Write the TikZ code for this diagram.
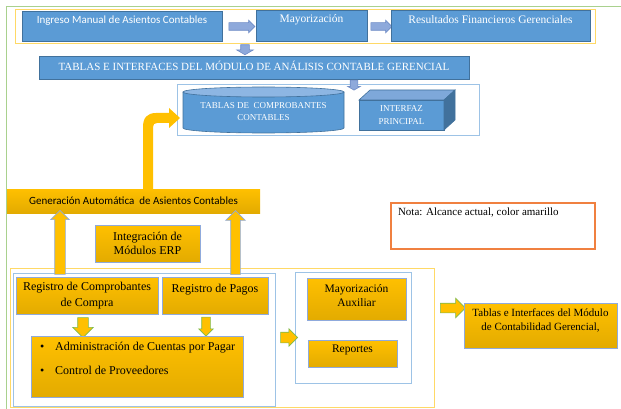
\documentclass[tikz,border=0pt]{standalone}
\usepackage{fontspec}
\setmainfont{Liberation Serif}
\newfontfamily\calibri{Carlito}
\usepackage{tikz}
\usetikzlibrary{
  	positioning,
  	shapes.arrows,
  	shapes.geometric,
  	calc
  }
\definecolor{boxblue}{HTML}{5B9BD5}
\definecolor{blueline}{HTML}{41719C}
\definecolor{cyltop}{HTML}{8DB6E3}
\definecolor{cubetop}{HTML}{7EA8DA}
\definecolor{arrfill}{HTML}{8EA9DB}
\definecolor{arrline}{HTML}{6F8CC6}
\definecolor{goldtop}{HTML}{FFC000}
\definecolor{goldbot}{HTML}{E3AB00}
\definecolor{goldline}{HTML}{8FAADC}
\definecolor{greenline}{HTML}{7DBB4C}
\definecolor{frameyellow}{HTML}{FFD966}
\definecolor{frameblue}{HTML}{9DC3E6}
\definecolor{framegreen}{HTML}{A9D18E}
\definecolor{notaorange}{RGB}{240,128,64}

\begin{document}
\begin{tikzpicture}[x=1pt, y=-1pt,
    every node/.style={inner sep=0pt, outer sep=0pt},
    every label/.style={align=center},
    tms/.style={font=\fontsize{#1}{14}\selectfont},
    calib/.style={font=\calibri\fontsize{11}{13}\selectfont},
    wtxt/.style={text=white},
    bluebox/.style={draw=blueline, fill=boxblue, line width=.7pt, anchor=north west},
    goldfill/.style={top color=goldtop, bottom color=goldbot, anchor=north west, align=center},
    goldbox/.style={goldfill, draw=goldline, line width=.7pt},
    blk/.style={single arrow, single arrow head indent=0pt, line width=.6pt, inner xsep=0pt, inner ysep=#1},
    bluearr/.style={blk=#1, fill=arrfill, draw=arrline},
    greyarr/.style={blk=#1, fill=goldtop, draw=goldline},
    greenarr/.style={blk=#1, fill=goldtop, draw=greenline},
    notabox/.style={draw=notaorange, line width=1.2pt, anchor=north west},
    frame/.style={draw=#1, line width=.8pt}]
	\useasboundingbox (0,0) rectangle (621,409);
%
	\draw[frame=framegreen] (6,409) -- (6,6.5) -- (621,6.5);
	\draw[frame=frameyellow] (15,9) rectangle (595,43);
	\draw[frame=frameblue] (177,84) rectangle (479,135);
	\draw[frame=frameyellow] (10,268) rectangle (434,407);
	\draw[frame=frameblue] (13,273) rectangle (275,406);
	\draw[frame=frameblue] (295,272) rectangle (411,383);
%
	\node[bluebox, minimum width=200, minimum height=30,
	  label={[wtxt, calib, yshift=5pt]center:Ingreso Manual de Asientos Contables}] (ingreso) at (22,11) {};
	\node[bluearr=3.5, minimum height=26, minimum width=12, single arrow head extend=2.5] (a1) at (240,26.5) {};
	\node[bluebox, minimum width=111, minimum height=31,
	  label={[wtxt, tms=11.5, yshift=5.5pt]center:Mayorización}] (mayor) at (256,10) {};
	\node[bluearr=3.5, minimum height=21, minimum width=12, single arrow head extend=2.5] (a2) at (379.5,26.5) {};
	\node[bluebox, minimum width=199, minimum height=31,
	  label={[wtxt, tms=11.5, yshift=5.5pt]center:Resultados Financieros Gerenciales}] (result) at (391,10) {};
	\node[bluearr=4, rotate=-90, minimum height=10, minimum width=16, single arrow head extend=4,
	  single arrow tip angle=120] (a3) at (245,48.5) {};
%
	\node[bluebox, minimum width=430, minimum height=23,
	  label={[wtxt, tms=11, yshift=2pt]center:TABLAS E INTERFACES DEL MÓDULO DE ANÁLISIS CONTABLE GERENCIAL}] (tablas) at (39,56) {};
	\node[bluearr=3.5, rotate=-90, minimum height=10, minimum width=12, single arrow head extend=2.5,
	  single arrow tip angle=120] (a4) at (354,84) {};
%
	\draw[draw=blueline, fill=boxblue, line width=.6pt] (183,92) -- (183,128)
	  arc[start angle=180, end angle=360, x radius=80.5pt, y radius=5pt] -- (344,92);
	\draw[draw=blueline, fill=cyltop, line width=.6pt] (263.5,92) ellipse[x radius=80.5pt, y radius=5pt];
	\node[wtxt, tms=9, align=center] (tabcomp) at (263.5,112) {TABLAS DE\ \ COMPROBANTES\\[-2pt]CONTABLES};
%
	\node[bluebox, minimum width=85, minimum height=30, wtxt, tms=9, align=center] (interfaz) at (359,100) {INTERFAZ\\[-1pt]PRINCIPAL};
	\draw[draw=blueline, fill=cubetop, line width=.6pt] (interfaz.north west) -- ++(11,-10) -- ++(85,0) -- (interfaz.north east) -- cycle;
	\draw[draw=blueline, fill=blueline, line width=.6pt] (interfaz.north east) -- ++(11,-10) -- ++(0,30) -- (interfaz.south east) -- cycle;
%
	\node[goldfill, minimum width=253, minimum height=24, calib] (gen) at (7,189) {Generación Automática\ \ de Asientos Contables};
	\fill[goldtop] (143,189) -- (143,127) .. controls (143,118) and (147,113) .. (156,113) -- (169,113) -- (169,108)
	  -- (180,118) -- (169,128) -- (169,123) -- (157,123) .. controls (154.5,123) and (153,124.5) .. (153,127) -- (153,189) -- cycle;
%
	\node[goldbox, minimum width=105, minimum height=37, tms=12] (integ) at (95,225) {Integración de\\Módulos ERP};
	\node[greyarr=5, rotate=90, minimum height=64, minimum width=18, single arrow head extend=4] (upL) at (60,245) {};
	\node[greyarr=4.5, rotate=90, minimum height=64, minimum width=19, single arrow head extend=5] (upR) at (235.5,245) {};
%
	\node[goldbox, minimum width=142, minimum height=37, tms=12] (regcomp) at (16,277) {Registro de Comprobantes\\[2pt]de Compra};
	\node[goldbox, minimum width=106, minimum height=37,
	  label={[tms=12, yshift=6pt]center:Registro de Pagos}] (regpag) at (162,277) {};
	\node[greenarr=5, rotate=-90, minimum height=20, minimum width=20, single arrow head extend=5] (dnL) at (83,325) {};
	\node[greenarr=4, rotate=-90, minimum height=19, minimum width=14, single arrow head extend=3] (dnR) at (206,324.5) {};
	\node[goldbox, minimum width=212, minimum height=61,
	  label={[tms=12, align=left, anchor=north west, xshift=9pt, yshift=-6pt]north west:{\textbullet\hspace{11pt}Administración de Cuentas por Pagar\\[10.5pt]\textbullet\hspace{11pt}Control de Proveedores}}] (admin) at (31,336) {};
%
	\node[greenarr=5, minimum height=17, minimum width=17, single arrow head extend=3.5] (aR1) at (286.5,337.5) {};
	\node[goldbox, minimum width=99, minimum height=42, tms=11.5,
	  label={[tms=11.5, yshift=3pt]center:Mayorización\\Auxiliar}] (mayaux) at (307,278) {};
	\node[goldbox, minimum width=89, minimum height=27,
	  label={[tms=11.5, yshift=3.5pt]center:Reportes}] (reportes) at (308,340) {};
%
	\node[greenarr=4.5, minimum height=25, minimum width=19, single arrow head extend=5] (aR2) at (450.5,308) {};
	\node[goldbox, minimum width=153, minimum height=45,
	  label={[tms=11, yshift=5pt]center:Tablas e Interfaces del Módulo\\de Contabilidad Gerencial,}] (tabcont) at (464,303) {};
%
	\node[notabox, minimum width=204, minimum height=46] (nota) at (391,203) {};
	\node[tms=11, anchor=north west] (notatxt) at ([xshift=7pt, yshift=-5pt]nota.north west) {Nota: Alcance actual, color amarillo};
\end{tikzpicture}
\end{document}
